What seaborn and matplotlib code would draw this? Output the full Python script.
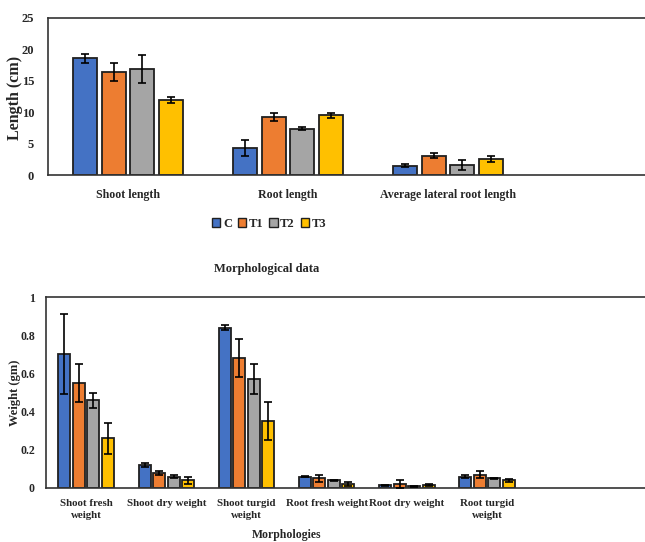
import numpy as np
import pandas as pd
import matplotlib
matplotlib.use("Agg")
import matplotlib.pyplot as plt
import seaborn as sns
from matplotlib.patches import Patch
from matplotlib.ticker import FuncFormatter

# -----------------------------
# Data
# -----------------------------
groups = ["C", "T1", "T2", "T3"]
colors = ["#4472C4", "#ED7D31", "#A5A5A5", "#FFC000"]

length_cats = ["Shoot length", "Root length", "Average lateral root length"]
length_C = [18.6, 4.3, 1.5]
length_T1 = [16.4, 9.2, 3.1]
length_T2 = [16.9, 7.4, 1.6]
length_T3 = [11.9, 9.5, 2.6]
length_err_C = [0.7, 1.2, 0.2]
length_err_T1 = [1.4, 0.6, 0.4]
length_err_T2 = [2.2, 0.2, 0.8]
length_err_T3 = [0.5, 0.4, 0.5]

weight_cats = ["Shoot fresh\nweight", "Shoot dry weight", "Shoot turgid\nweight",
               "Root fresh weight", "Root dry weight", "Root turgid\nweight"]
weight_C = [0.70, 0.12, 0.84, 0.060, 0.015, 0.060]
weight_T1 = [0.55, 0.08, 0.68, 0.050, 0.020, 0.070]
weight_T2 = [0.46, 0.06, 0.57, 0.040, 0.008, 0.050]
weight_T3 = [0.26, 0.04, 0.35, 0.020, 0.018, 0.040]
weight_err_C = [0.21, 0.01, 0.015, 0.004, 0.003, 0.010]
weight_err_T1 = [0.10, 0.01, 0.10, 0.020, 0.020, 0.020]
weight_err_T2 = [0.04, 0.01, 0.08, 0.003, 0.003, 0.003]
weight_err_T3 = [0.08, 0.02, 0.10, 0.010, 0.005, 0.007]

FONT = "Liberation Serif"


def to_long(cats, vals, errs):
    rows = []
    for g, v, e in zip(groups, vals, errs):
        for c, vv, ee in zip(cats, v, e):
            rows.append({"category": c, "group": g, "value": vv, "err": ee})
    return pd.DataFrame(rows)


def draw_bars(ax, df, cats):
    sns.barplot(data=df, x="category", y="value", hue="group",
                order=cats, hue_order=groups, palette=colors, saturation=1,
                width=0.72, gap=0.17, errorbar=None, legend=False,
                edgecolor="#202020", linewidth=1.3, ax=ax)
    # error bars from the drawn bars
    for cont, g in zip(ax.containers, groups):
        errs = df[df["group"] == g].set_index("category").loc[cats, "err"].values
        for bar, e in zip(cont, errs):
            ax.errorbar(bar.get_x() + bar.get_width() / 2, bar.get_height(),
                        yerr=e, fmt="none", ecolor="black", elinewidth=1.2,
                        capsize=3, capthick=1.2, zorder=5)


def style_axes(ax):
    for s in ax.spines.values():
        s.set_color("#333333")
        s.set_linewidth(1.2)
    ax.tick_params(length=0)
    ax.set_xlabel("")
    ax.set_ylabel("")
    for t in ax.get_xticklabels() + ax.get_yticklabels():
        t.set_fontweight("bold")


sns.set_style("white")
plt.rcParams["font.family"] = FONT
plt.rcParams["font.weight"] = "bold"

fig = plt.figure(figsize=(6.45, 5.42), dpi=100)

# -----------------------------
# Top chart: lengths
# -----------------------------
ax1 = fig.add_axes([48 / 645, 1 - 175 / 542, 602 / 645, 157 / 542])
df_len = to_long(length_cats,
                 [length_C, length_T1, length_T2, length_T3],
                 [length_err_C, length_err_T1, length_err_T2, length_err_T3])
draw_bars(ax1, df_len, length_cats)
ax1.set_ylim(0, 25)
ax1.set_yticks([0, 5, 10, 15, 20, 25])
ax1.set_xlim(-0.5, -0.5 + 602 / 160)
style_axes(ax1)
ax1.tick_params(axis="x", pad=10, labelsize=8.6)
ax1.tick_params(axis="y", pad=10, labelsize=9)
fig.text(15 / 645, 1 - 98 / 542, "Length (cm)", rotation=90, ha="center",
         va="center", fontsize=11.5, fontweight="bold")

handles = [Patch(facecolor=c, edgecolor="#202020", linewidth=1.0) for c in colors]
fig.legend(handles, groups, loc="center", bbox_to_anchor=(269 / 645, 1 - 224 / 542),
           ncol=4, frameon=False, handlelength=0.7, handleheight=0.7,
           handletextpad=0.2, columnspacing=0.45, prop={"size": 9, "weight": "bold"})

# -----------------------------
# Bottom chart: weights
# -----------------------------
ax2 = fig.add_axes([46 / 645, 1 - 488 / 542, 604 / 645, 191 / 542])
df_w = to_long(weight_cats,
               [weight_C, weight_T1, weight_T2, weight_T3],
               [weight_err_C, weight_err_T1, weight_err_T2, weight_err_T3])
draw_bars(ax2, df_w, weight_cats)
ax2.set_ylim(0, 1)
ax2.set_yticks([0, 0.2, 0.4, 0.6, 0.8, 1.0])
ax2.yaxis.set_major_formatter(FuncFormatter(lambda v, p: f"{v:g}"))
ax2.set_xlim(-0.5, -0.5 + 604 / 80.2)
style_axes(ax2)
ax2.tick_params(axis="x", pad=8, labelsize=7.8)
ax2.tick_params(axis="y", pad=8, labelsize=8.5)
for t in ax2.get_xticklabels():
    t.set_linespacing(1.45)
fig.text(15 / 645, 1 - 393 / 542, "Weight (gm)", rotation=90, ha="center",
         va="center", fontsize=9, fontweight="bold")
fig.text(267 / 645, 1 - 269 / 542, "Morphological data", ha="center",
         va="center", fontsize=9, fontweight="bold")
fig.text(287 / 645, 1 - 535 / 542, "Morphologies", ha="center",
         va="center", fontsize=8.5, fontweight="bold")

fig.savefig("out.png", dpi=100)
